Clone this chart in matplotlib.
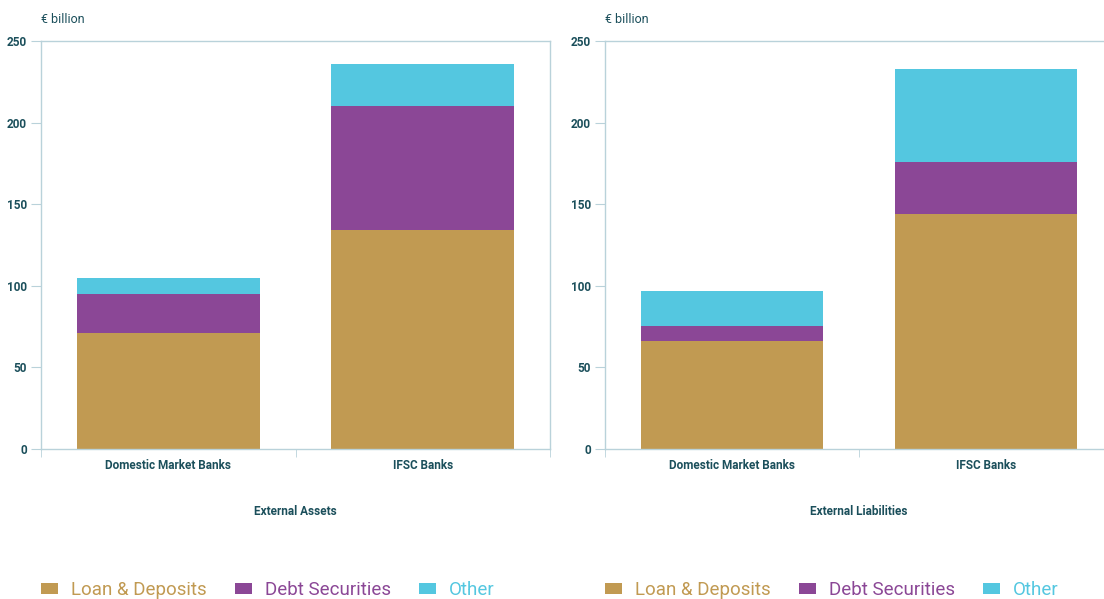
import matplotlib.pyplot as plt
import numpy as np

categories = ['Domestic Market Banks', 'IFSC Banks']
series = ['Loan & Deposits', 'Debt Securities', 'Other']
colors = ['#C19A52', '#8B4796', '#54C7E0']

assets = {
    'Loan & Deposits': [71, 134],
    'Debt Securities': [24, 76],
    'Other': [10, 26],
}
liabilities = {
    'Loan & Deposits': [66, 144],
    'Debt Securities': [9.5, 32],
    'Other': [21.5, 57],
}
panel_titles = ['External Assets', 'External Liabilities']

text_col = '#1B4F5B'
spine_col = '#B9D2DA'
plt.rcParams['font.family'] = ['Roboto', 'DejaVu Sans']

fig = plt.figure(figsize=(11.04, 5.99), dpi=100)
ax1 = fig.add_axes([41 / 1104, 0.2504, 509 / 1104, 0.6812])
ax2 = fig.add_axes([605 / 1104, 0.2504, 508 / 1104, 0.6812])

for ax, data, title in zip([ax1, ax2], [assets, liabilities], panel_titles):
    x = np.arange(len(categories))
    bottom = np.zeros(len(categories))
    for name, c in zip(series, colors):
        vals = np.array(data[name])
        ax.bar(x, vals, bottom=bottom, width=0.72, color=c, label=name, zorder=2)
        bottom += vals
    ax.set_xlim(-0.5, 1.5)
    ax.set_ylim(0, 250)
    ax.set_yticks([0, 50, 100, 150, 200, 250])
    ax.set_xticks(x)
    ax.set_xticklabels(categories, fontsize=8.5, fontweight='bold', color=text_col)
    ax.set_xticks([-0.5, 0.5, 1.5], minor=True)
    ax.tick_params(axis='x', which='major', length=0, pad=7)
    ax.tick_params(axis='x', which='minor', length=6, color=spine_col, direction='out')
    ax.tick_params(axis='y', length=7, color=spine_col, labelsize=8.5, labelcolor=text_col, pad=3)
    for lab in ax.get_yticklabels():
        lab.set_fontweight('bold')
    for s in ax.spines.values():
        s.set_color(spine_col)
        s.set_linewidth(1)
    ax.set_xlabel(title, fontsize=8.5, fontweight='bold', color=text_col, labelpad=24)
    ax.text(0, 1.052, '€ billion', transform=ax.transAxes, fontsize=9, color=text_col, va='center')
    leg = ax.legend(loc='center left', bbox_to_anchor=(0, -0.345), ncol=3, frameon=False,
                    fontsize=13.5, handlelength=0.9, handleheight=0.55, handletextpad=0.7,
                    columnspacing=1.5, borderpad=0, borderaxespad=0, labelcolor=colors)

fig.savefig('out.png', dpi=100)
